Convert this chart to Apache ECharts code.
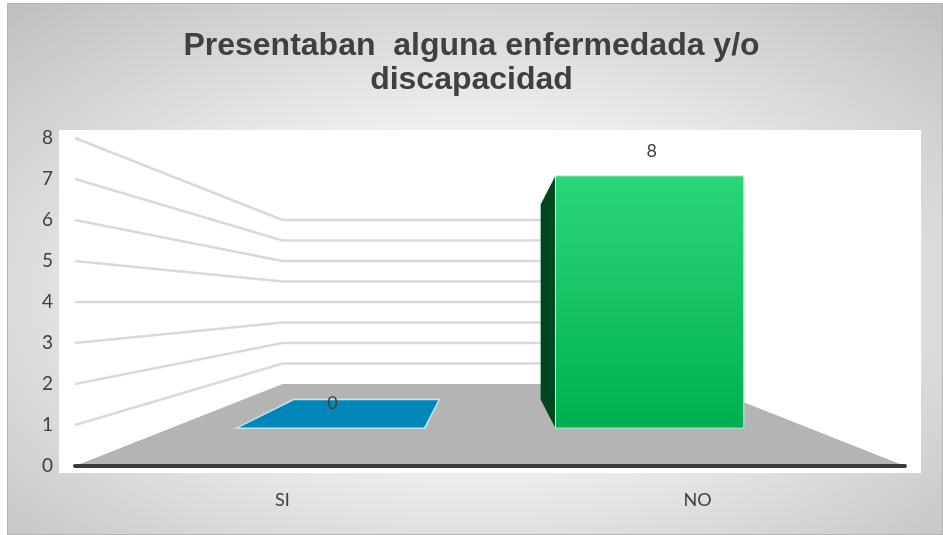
<!DOCTYPE html>
<html>
<head>
<meta charset="utf-8">
<script src="https://cdn.jsdelivr.net/npm/echarts@6/dist/echarts.min.js"></script>
<style>
  html, body { margin: 0; padding: 0; }
  #main { width: 943px; height: 535px; }
</style>
</head>
<body>
<div id="main"></div>
<script>
const categories = ["SI", "NO"];
const values = [0, 8];
const yTicks = [0, 1, 2, 3, 4, 5, 6, 7, 8];

// fake 3D: depth 0 = front plane, 1 = back wall
const barFront = 0.3;
const barBack = 0.68;
const barShare = 0.59;
const horizon = 4; // vanishing point height, in axis units

const barColors = [
    { face: "#0087b9", side: "#005a7a", edge: "#c4e6f2" },
    {
        face: { type: "linear", x: 0, y: 0, x2: 0, y2: 1, colorStops: [{ offset: 0, color: "#2bd67b" }, { offset: 1, color: "#00b050" }] },
        side: "#00471f",
        edge: "#bff0d4"
    }
];

function vanish(params, api) {
    const cs = params.coordSys;
    return [cs.x + cs.width / 2, api.coord([0, horizon])[1]];
}

function project(p, vp, d) {
    const s = 1 / (1 + d);
    return [vp[0] + (p[0] - vp[0]) * s, vp[1] + (p[1] - vp[1]) * s];
}

function renderWall(params, api) {
    const cs = params.coordSys;
    const vp = vanish(params, api);
    const v = api.value(1);
    const y = api.coord([0, v])[1];
    const fl = [cs.x, y];
    const fr = [cs.x + cs.width, y];
    const bl = project(fl, vp, 1);
    const br = project(fr, vp, 1);
    if (v === 0) {
        return { type: "polygon", shape: { points: [fl, bl, br, fr] }, style: { fill: "#b4b4b4" } };
    }
    return {
        type: "polyline",
        shape: { points: [fl, bl, br] },
        style: { stroke: "#d9d9d9", lineWidth: 2.5, fill: null }
    };
}

function renderBar(params, api) {
    const idx = api.value(0);
    const v = api.value(1);
    const vp = vanish(params, api);
    const base = api.coord([idx, 0]);
    const top = api.coord([idx, v]);
    const half = (api.size([1, 0])[0] * barShare) / 2;
    const c = barColors[idx];

    const lb = [base[0] - half, base[1]];
    const rb = [base[0] + half, base[1]];
    const lt = [base[0] - half, top[1]];
    const rt = [base[0] + half, top[1]];

    const f = (p) => project(p, vp, barFront);
    const b = (p) => project(p, vp, barBack);
    const children = [];

    if (v === 0) {
        children.push({
            type: "polygon",
            shape: { points: [f(lb), f(rb), b(rb), b(lb)] },
            style: { fill: c.face, stroke: c.edge, lineWidth: 1.5 }
        });
    } else {
        if (base[0] > vp[0]) {
            children.push({ type: "polygon", shape: { points: [f(lt), b(lt), b(lb), f(lb)] }, style: { fill: c.side } });
        } else {
            children.push({ type: "polygon", shape: { points: [f(rt), b(rt), b(rb), f(rb)] }, style: { fill: c.side } });
        }
        if (top[1] > vp[1]) {
            children.push({ type: "polygon", shape: { points: [f(lt), f(rt), b(rt), b(lt)] }, style: { fill: c.side } });
        }
        children.push({
            type: "polygon",
            shape: { points: [f(lb), f(rb), f(rt), f(lt)] },
            style: { fill: c.face, stroke: c.edge, lineWidth: 1 }
        });
    }

    const labelPos = f([base[0], top[1]]);
    children.push({
        type: "text",
        style: {
            x: labelPos[0] + 2,
            y: labelPos[1] - 25,
            text: String(v),
            fill: "#404040",
            font: "18px Lato",
            align: "center",
            verticalAlign: "middle"
        }
    });
    return { type: "group", children };
}

const chart = echarts.init(document.getElementById("main"));
chart.setOption({
    animation: false,
    backgroundColor: "#ffffff",
    title: {
        text: "Presentaban  alguna enfermedada y/o\ndiscapacidad",
        left: "center",
        top: 24,
        textStyle: { fontFamily: "Liberation Sans", fontWeight: "bold", fontSize: 32, lineHeight: 34, color: "#404040" }
    },
    graphic: [
        {
            // chart area: elliptical grey-to-white gradient (square rect stretched sideways)
            type: "rect",
            z: -2,
            x: 7,
            y: 3,
            scaleX: 936 / 532,
            shape: { x: 0, y: 0, width: 532, height: 532 },
            style: {
                fill: {
                    type: "radial", x: 0.5, y: 0.55, r: 0.74,
                    colorStops: [
                        { offset: 0, color: "#ffffff" },
                        { offset: 0.3, color: "#fafafa" },
                        { offset: 1, color: "#bfbfbf" }
                    ]
                }
            }
        },
        { type: "rect", z: -1, shape: { x: 7.5, y: 3.5, width: 935, height: 531 }, style: { fill: null, stroke: "#b5b5b5", lineWidth: 1 } },
        { type: "rect", z: -1, shape: { x: 59, y: 130, width: 862, height: 343 }, style: { fill: "#ffffff" } }
    ],
    grid: { left: 75, right: 38, top: 138, bottom: 69 },
    xAxis: {
        type: "category",
        data: categories,
        z: 10,
        axisLine: { lineStyle: { color: "#3a3a3a", width: 4, cap: "round" } },
        axisTick: { show: false },
        axisLabel: { color: "#404040", fontSize: 18, fontFamily: "Lato", margin: 25 }
    },
    yAxis: {
        type: "value",
        min: yTicks[0],
        max: yTicks[yTicks.length - 1],
        interval: 1,
        axisLine: { show: false },
        axisTick: { show: false },
        splitLine: { show: false },
        axisLabel: { color: "#404040", fontSize: 19, fontFamily: "Lato", margin: 22 }
    },
    series: [
        {
            type: "custom",
            name: "walls",
            z: 1,
            silent: true,
            renderItem: renderWall,
            data: yTicks.map((v) => [0, v])
        },
        {
            type: "custom",
            name: "bars",
            z: 2,
            renderItem: renderBar,
            data: values.map((v, i) => [i, v])
        }
    ]
});
</script>
</body>
</html>
